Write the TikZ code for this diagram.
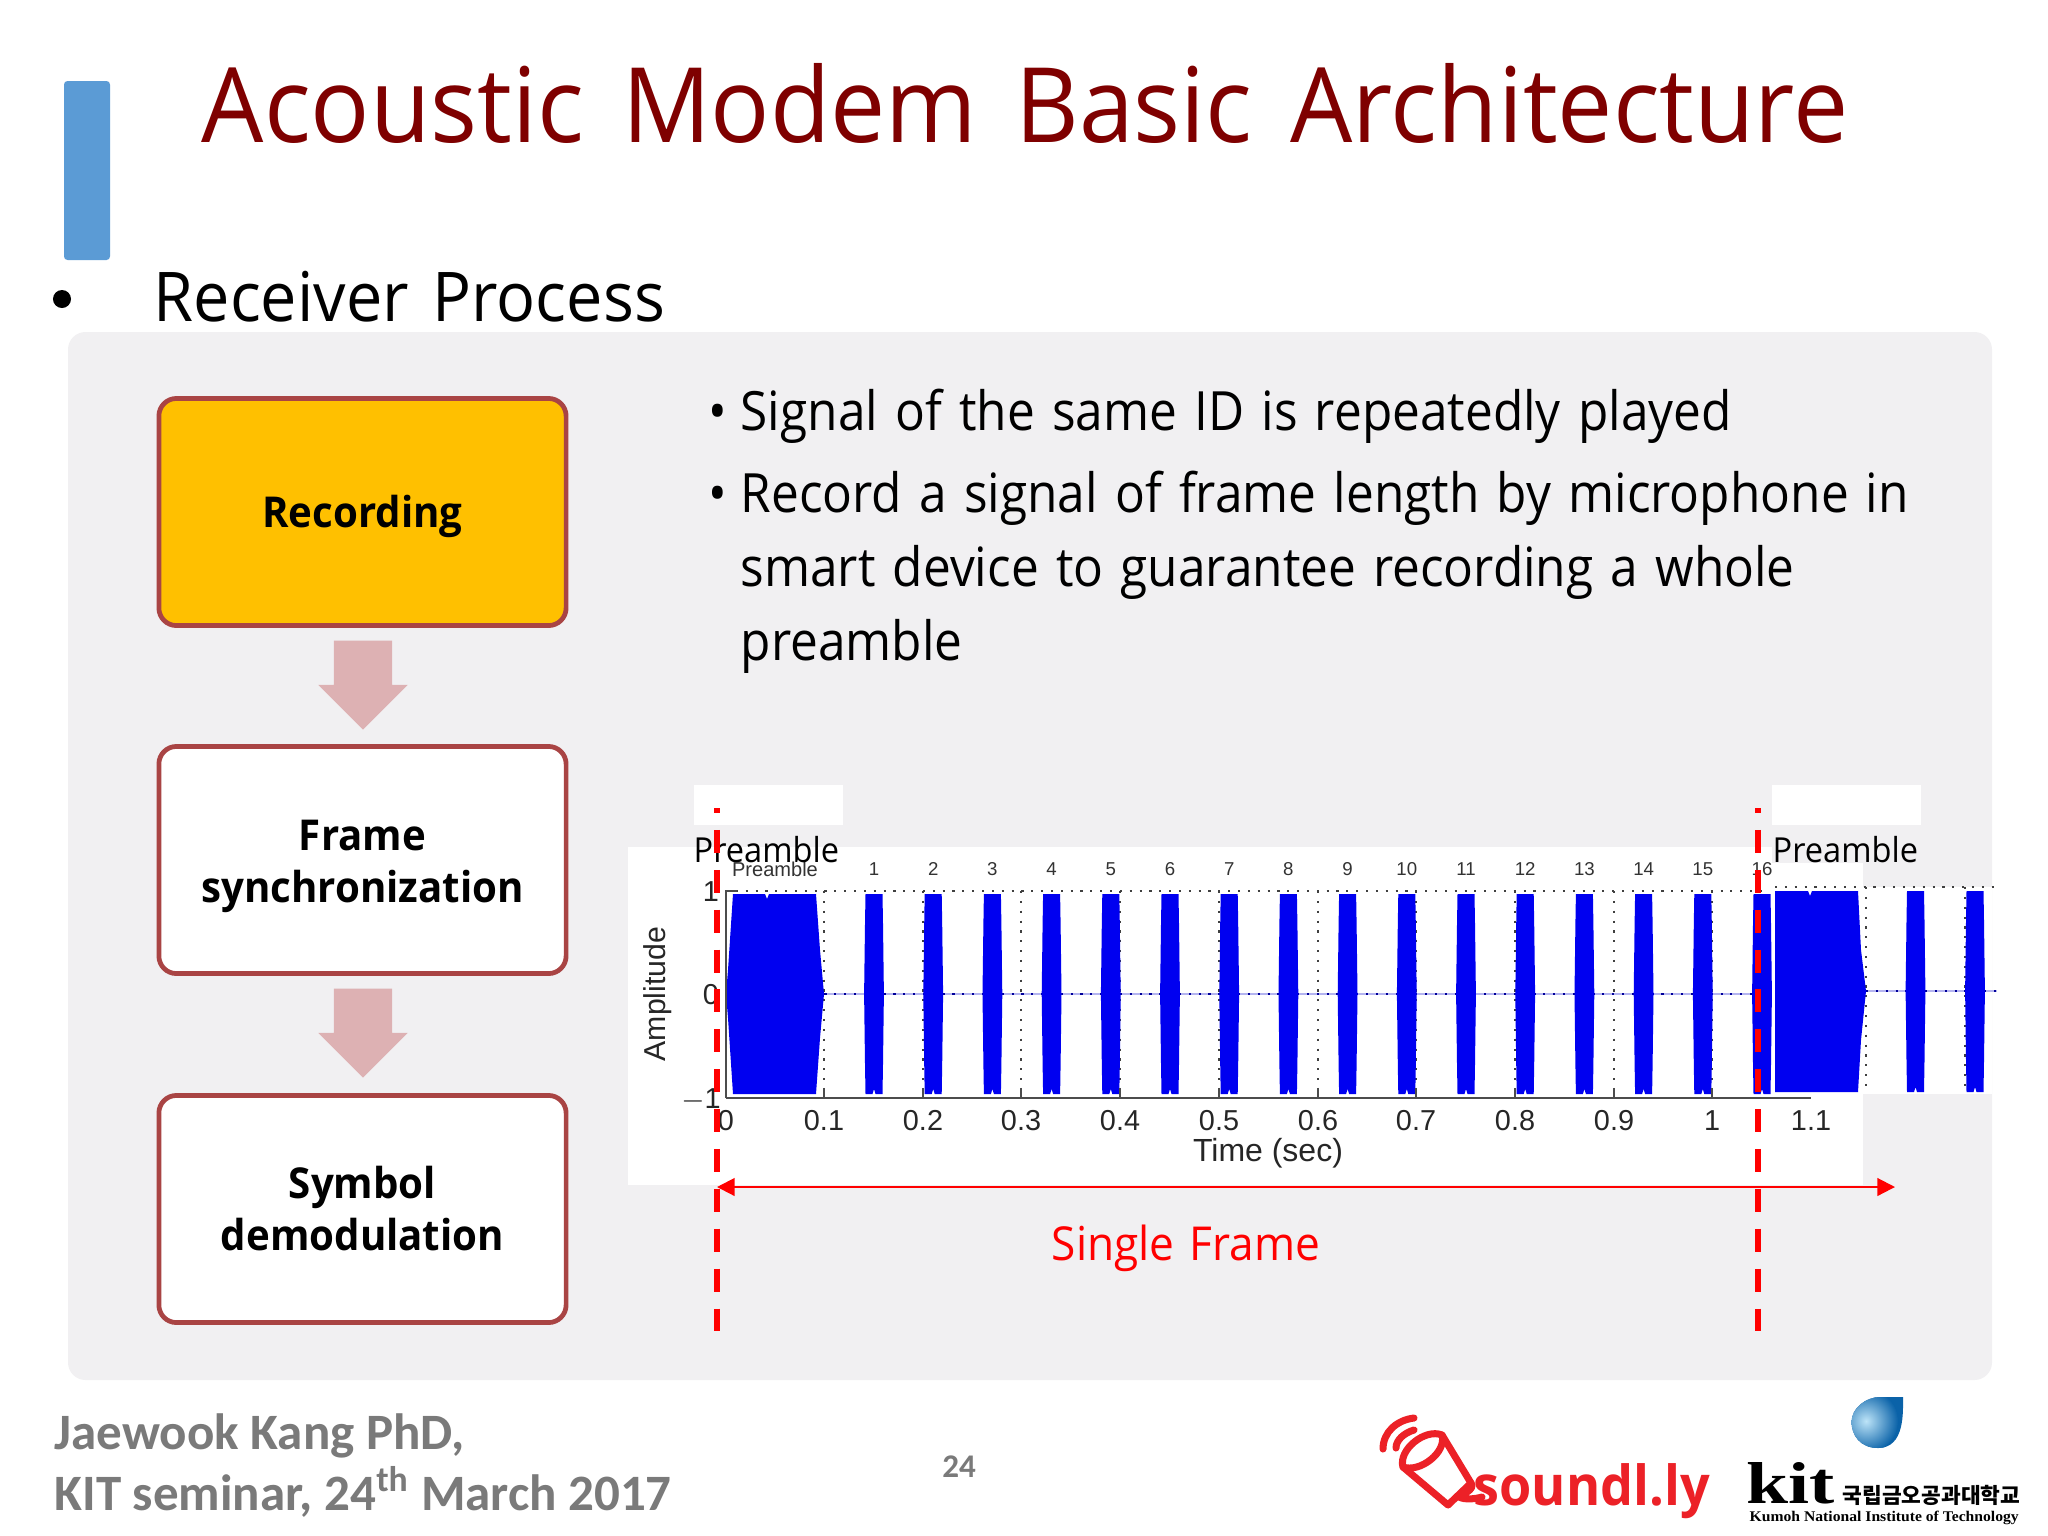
\documentclass[tikz,border=0pt]{standalone}
\usepackage{fontspec}
\setmainfont[FakeStretch=0.945]{Open Sans}
\newfontfamily\bodyfont[FakeStretch=0.915]{Open Sans}
\newfontfamily\plotfont{Liberation Sans}
\newfontfamily\footfont{Carlito}
\newfontfamily\krfont{Noto Sans CJK KR}
\newfontfamily\kitfont[FakeStretch=1.28]{Liberation Serif}
\newfontfamily\kumohfont[FakeStretch=1.06]{Liberation Serif}
\usetikzlibrary{arrows.meta,positioning,shapes.arrows,calc}
\definecolor{slideTitle}{HTML}{7F0000}
\definecolor{barBlue}{HTML}{5B9BD5}
\definecolor{panelGray}{HTML}{F1F0F2}
\definecolor{boxEdge}{HTML}{A94444}
\definecolor{boxGold}{HTML}{FFC000}
\definecolor{downPink}{HTML}{DDB1B3}
\definecolor{footGray}{HTML}{7A7A7A}
\definecolor{pulseBlue}{HTML}{0000F0}
\definecolor{zeroBlue}{HTML}{B4B4F0}
\definecolor{logoRed}{HTML}{EC2127}
\definecolor{dropLight}{HTML}{BDE4F8}
\definecolor{dropDark}{HTML}{0A62A8}
\definecolor{axisGray}{gray}{0.3}
\tikzset{
  stagebox/.style = {draw=boxEdge, line width=1.35pt, rounded corners=5pt, fill=white,
                     minimum width=4.07cm, minimum height=2.27cm, align=center,
                     font=\fontsize{12.1}{14.8}\selectfont\bfseries, inner sep=0pt},
  downarr/.style  = {single arrow, draw=none, fill=downPink, rotate=-90,
                     minimum width=0.88cm, single arrow head extend=0.155cm,
                     minimum height=0.89cm, inner xsep=0pt, inner ysep=0.285cm,
                     single arrow tip angle=90},
  bodytxt/.style  = {anchor=base west, inner sep=0pt, font=\bodyfont\fontsize{15.4}{15.4}\selectfont},
  ticktxt/.style  = {font=\plotfont\fontsize{8.2}{8.2}\selectfont, inner sep=0pt, text=black!85},
  numtxt/.style   = {font=\plotfont\fontsize{5.3}{5.3}\selectfont, inner sep=0pt, text=black!80},
  preambletxt/.style = {font=\fontsize{9.8}{9.8}\selectfont, inner sep=0pt, anchor=base west},
  framedash/.style = {draw=red, line width=1.5pt, dash pattern=on 6.52pt off 4.82pt, dash phase=5.1pt},
  griddot/.style  = {draw=black!75, line width=0.45pt, dash pattern=on 0.6pt off 2.2pt},
  foottxt/.style  = {anchor=base west, inner sep=0pt, text=footGray,
                     font=\footfont\fontsize{14.5}{14.5}\selectfont\bfseries},
}
% one pulse: centre x, half width, y top, y zero, y bottom
\newcommand{\pulse}[5]{%
  \fill[pulseBlue] (#1-#2,#3) -- (#1+#2,#3) -- (#1+#2+0.5,#4-70) -- (#1+#2+1.4,#4)
    -- (#1+#2+0.5,#4+70) -- (#1+#2,#5) -- (#1+1.5,#5) -- (#1,#5-5) -- (#1-1.5,#5)
    -- (#1-#2,#5) -- (#1-#2-0.5,#4+70)
    -- (#1-#2-1.4,#4) -- (#1-#2-0.5,#4-70) -- cycle;}
\begin{document}
\begin{tikzpicture}[x=0.01cm,y=-0.01cm]
  \useasboundingbox (0,0) rectangle (2048,1536);
  \fill[white] (0,0) rectangle (2048,1536);

  % header
  \fill[barBlue, rounded corners=1pt] (64,81) rectangle (110,260);
  \node[anchor=base, inner sep=0pt, text=slideTitle, font=\fontsize{29.6}{29.6}\selectfont]
    (title) at (1025,142) {Acoustic\hspace{0.12em} Modem\hspace{0.12em} Basic\hspace{0.12em} Architecture};
  \node[circle, fill=black, minimum size=0.18cm, inner sep=0pt] (dot) at (62,299) {};
  \node[anchor=base west, inner sep=0pt, font=\fontsize{19.5}{19.5}\selectfont]
    (sub) at (153,321.5) {Receiver\hspace{0.1em} Process};

  \fill[panelGray, rounded corners=5pt] (68,332) rectangle (1992,1380);

  % stages
  \node[stagebox, fill=boxGold] (rec) at (362.5,512) {\smash{\raisebox{-4.5pt}{Recording}}};
  \node[stagebox] (sync) at (362.5,860) {\rule{0pt}{12.5pt}Frame\\synchronization};
  \node[stagebox] (demod) at (362.5,1209) {Symbol\\demodulation};
  \node[downarr] (a1) at (363,670.5) {};
  \node[downarr] (a2) at (363,1018.5) {};

  % bullets
  \node[bodytxt] (b1) at (708,430) {• };
  \node[bodytxt] (t1) at (740,430) {Signal\hspace{0.08em} of\hspace{0.08em} the\hspace{0.08em} same\hspace{0.08em} ID\hspace{0.08em} is\hspace{0.08em} repeatedly\hspace{0.08em} played};
  \node[bodytxt] (b2) at (708,512) {• };
  \node[bodytxt] (t2) at (740,512) {Record\hspace{0.08em} a\hspace{0.08em} signal\hspace{0.08em} of\hspace{0.08em} frame\hspace{0.08em} length\hspace{0.08em} by\hspace{0.08em} microphone\hspace{0.08em} in};
  \node[bodytxt] (t3) at (740,586) {smart\hspace{0.08em} device\hspace{0.08em} to\hspace{0.08em} guarantee\hspace{0.08em} recording\hspace{0.08em} a\hspace{0.08em} whole};
  \node[bodytxt] (t4) at (740,660) {preamble};

  % white patches of the screenshot
  \fill[white] (628,847) rectangle (1772,1185);
  \fill[white] (1772,863) rectangle (1863,1185);
  \fill[white] (1863,887) rectangle (1992,1094);
  \fill[white] (694,785) rectangle (843,825);
  \fill[white] (1772,785) rectangle (1921,825);

  % plot
  \foreach \gx in {824,923,1021,1120,1219,1318,1416,1515,1614,1712}
    \draw[griddot] (\gx,891) -- (\gx,1098);
  \draw[griddot] (726,891) -- (1762,891);
  \draw[griddot] (1775,887) -- (1995,887);
  \draw[griddot] (1866,887) -- (1866,1093);
  \draw[griddot] (1965,887) -- (1965,1093);
  \draw[zeroBlue, line width=0.6pt] (726,994) -- (1762,994);
  \draw[griddot, draw=blue!60!black] (726,994) -- (1762,994);
  \draw[zeroBlue, line width=0.6pt] (1866,991) -- (1997,991);
  \draw[griddot, draw=blue!60!black] (1866,991) -- (1997,991);

  \fill[pulseBlue] (733,894) -- (765,894) -- (767,899) -- (769,894) -- (816,894) -- (820,950)
    -- (824,994) -- (820,1038) -- (816,1094) -- (733,1094) -- (728,1018) -- (726,994)
    -- (728,970) -- cycle;
  \foreach \k in {1,...,16}{
    \pgfmathsetmacro{\cx}{874+59.2*(\k-1)}
    \pulse{\cx}{8.5}{894}{994}{1094}
    \node[numtxt] (n\k) at (\cx,869) {\k};
  }
  \fill[pulseBlue] (1775,891) -- (1808,891) -- (1810,896) -- (1812,891) -- (1858,891)
    -- (1861,950) -- (1866,991) -- (1861,1040) -- (1858,1092) -- (1775,1092) -- cycle;
  \pulse{1915.5}{8.5}{891}{991}{1092}
  \pulse{1975}{8.5}{891}{991}{1092}

  \draw[axisGray, line width=0.55pt] (726,1098) -- (726,891) -- (737,891);
  \draw[axisGray, line width=0.55pt] (726,1098) -- (1811,1098);
  \foreach \gx in {824,923,1021,1120,1219,1318,1416,1515,1614,1712}
    \draw[axisGray, line width=0.55pt] (\gx,1098) -- (\gx,1088);

  \node[numtxt, font=\plotfont\fontsize{5.7}{5.7}\selectfont] (pre0) at (775,869) {Preamble};
  \foreach \gx/\lbl in {726/0,824/0.1,923/0.2,1021/0.3,1120/0.4,1219/0.5,1318/0.6,1416/0.7,1515/0.8,1614/0.9,1712/1,1811/1.1}
    \node[ticktxt] (x\lbl) at (\gx,1121) {\lbl};
  \node[ticktxt, font=\plotfont\fontsize{9.1}{9.1}\selectfont] (xname) at (1268,1153) {Time (sec)};
  \node[ticktxt, rotate=90, font=\plotfont\fontsize{8.6}{8.6}\selectfont] (yname) at (658,994) {Amplitude};
  \node[ticktxt] (y1) at (711,892) {1};
  \node[ticktxt] (y0) at (711,995) {0};
  \node[ticktxt] (ym) at (701,1100) {$-$1};

  \node[preambletxt] (pre1) at (693,862) {Preamble};
  \node[preambletxt] (pre2) at (1772,862) {Preamble};

  % frame markers
  \coordinate (ltop) at (717,808);
  \coordinate (lbot) at (717,1333);
  \coordinate (rtop) at (1758,808);
  \coordinate (rbot) at (1758,1333);
  \coordinate (fl) at (717,1187);
  \coordinate (fr) at (1895,1187);
  \draw[framedash] (ltop) -- (lbot);
  \draw[framedash] (rtop) -- (rbot);
  \draw[red, line width=0.6pt, {Triangle[length=5pt,width=5pt]}-{Triangle[length=5pt,width=5pt]}] (fl) -- (fr);
  \node[inner sep=0pt, text=red, font=\fontsize{13.3}{13.3}\selectfont] (sframe) at (1186,1248) {Single\hspace{0.08em} Frame};

  % footer
  \node[foottxt] (f1) at (54,1449) {Jaewook Kang PhD,};
  \node[foottxt] (f2) at (54,1510) {KIT seminar, 24\textsuperscript{th} March 2017};
  \node[inner sep=0pt, text=footGray, font=\footfont\fontsize{9.4}{9.4}\selectfont\bfseries] (page) at (959,1467) {24};

  % soundly logo
  \begin{scope}[logoRed, line width=2pt, line cap=round, line join=round]
    \draw (1403,1467) .. controls (1398,1450) and (1425,1428) .. (1442,1435)
      -- (1471,1483) -- (1448,1505) -- cycle;
    \draw (1403,1467) .. controls (1420,1473) and (1447,1452) .. (1442,1435);
    \draw (1471,1483) .. controls (1476,1490) and (1460,1495) .. (1459,1497)
      .. controls (1465,1500) and (1475,1499) .. (1482,1497);
    \draw (1383,1449) .. controls (1383,1432) and (1397,1420) .. (1414,1418);
    \draw (1396,1448) .. controls (1396,1440) and (1404,1433) .. (1414,1430);
  \end{scope}
  \node[anchor=base west, inner sep=0pt, text=logoRed, font=\fontsize{15.7}{15.7}\selectfont\bfseries] (sl) at (1473,1505) {soundl.ly};

  % kit logo
  \begin{scope}
    \clip (1903,1397) .. controls (1903,1412) and (1905,1448) .. (1878,1448)
      .. controls (1860,1448) and (1851.5,1435) .. (1851.5,1422)
      .. controls (1851.5,1408) and (1866,1397) .. (1880,1397) -- cycle;
    \fill[dropDark] (1840,1390) rectangle (1910,1455);
    \shade[inner color=dropLight, outer color=dropDark] (1866,1421) circle (32);
  \end{scope}
  \node[anchor=base west, inner sep=0pt, font=\kitfont\fontsize{16.8}{16.8}\selectfont\bfseries] (kit) at (1746,1503) {kit};
  \node[anchor=base west, inner sep=0pt, font=\krfont\fontsize{6.1}{6.1}\selectfont\bfseries] (kr) at (1842,1503) {국립금오공과대학교};
  \node[anchor=base west, inner sep=0pt, font=\kumohfont\fontsize{4.2}{4.2}\selectfont\bfseries] (kumoh) at (1749,1521) {Kumoh National Institute of Technology};
\end{tikzpicture}
\end{document}
